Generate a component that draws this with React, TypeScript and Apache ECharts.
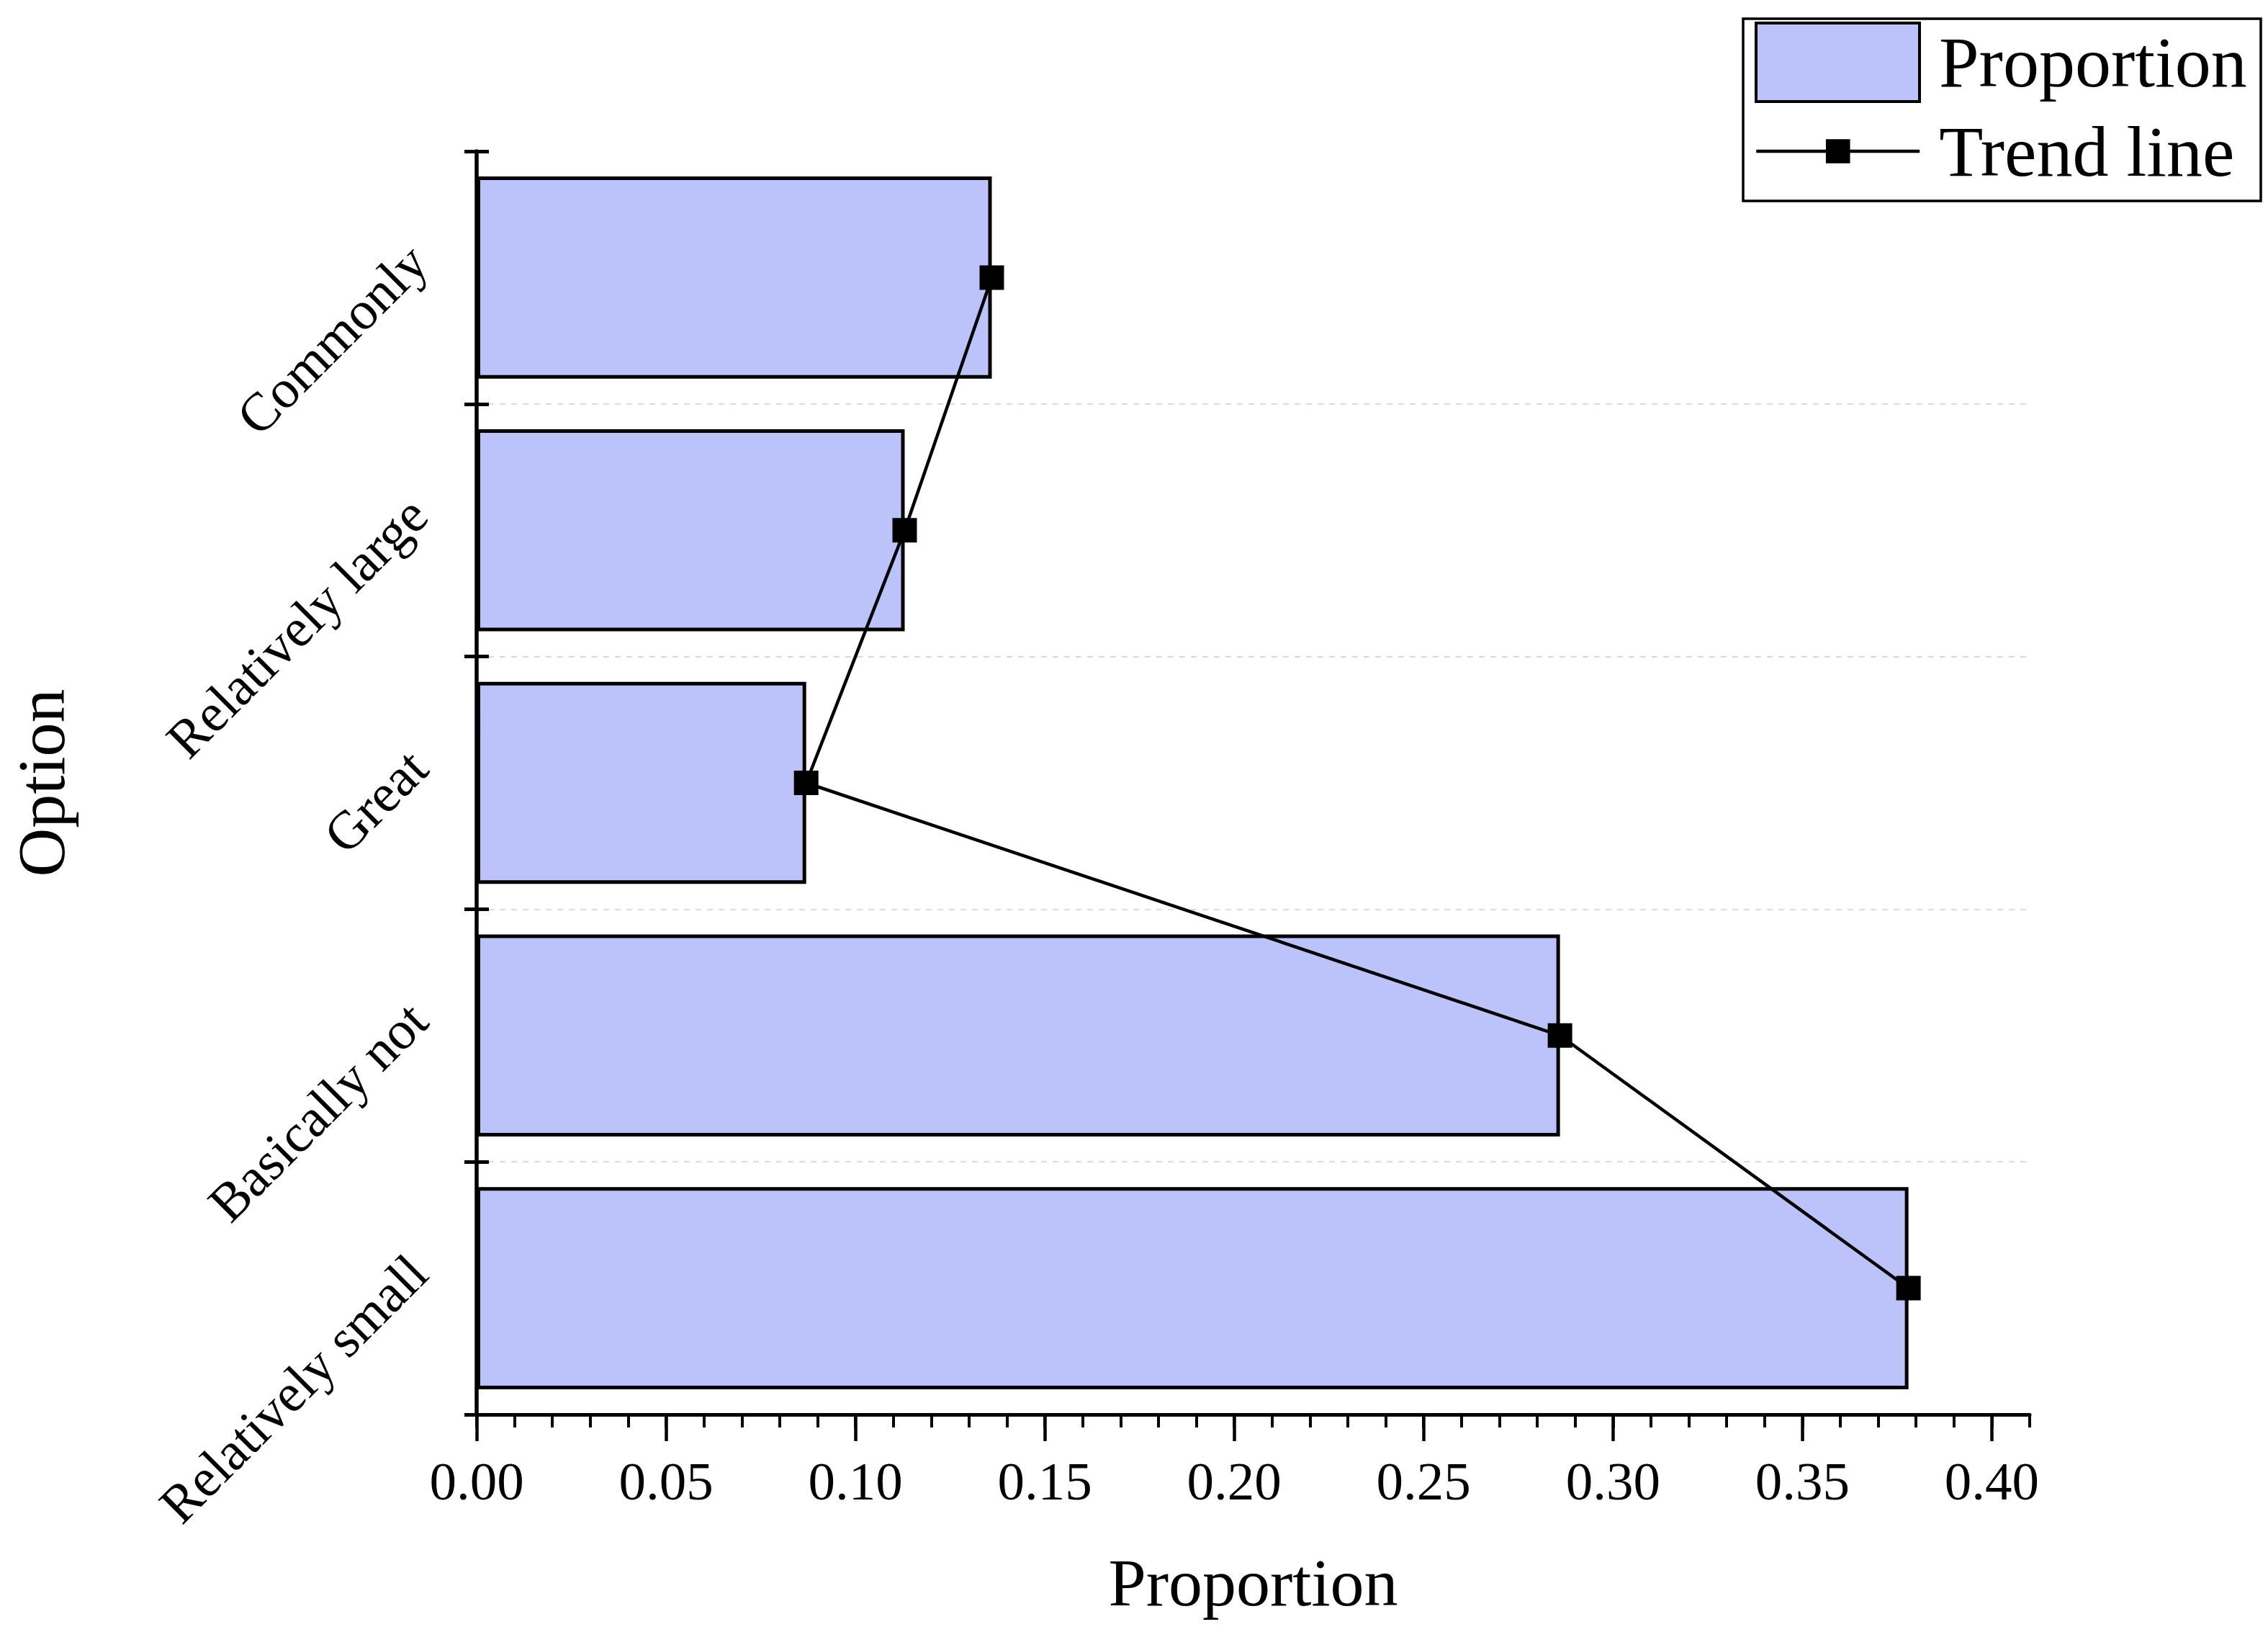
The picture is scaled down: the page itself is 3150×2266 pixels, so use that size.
import React, { useEffect, useRef } from 'react';
import * as echarts from 'echarts';

const categories = ['Relatively small', 'Basically not', 'Great', 'Relatively large', 'Commonly'];
const proportion = [0.378, 0.286, 0.087, 0.113, 0.136];
const trend = [0.378, 0.286, 0.087, 0.113, 0.136];
const xMajorTicks = [0, 0.05, 0.1, 0.15, 0.2, 0.25, 0.3, 0.35, 0.4];
const bandBoundaries = [1, 2, 3, 4];

const FONT = '"Liberation Serif", "Times New Roman", serif';

export default function App() {
  const ref = useRef<HTMLDivElement>(null);
  useEffect(() => {
    document.body.style.margin = '0';
    const chart = echarts.init(ref.current!, null, { renderer: 'svg' });
    const option: any = {
      animation: false,
      backgroundColor: '#ffffff',
      textStyle: { fontFamily: FONT, color: '#000' },
      grid: { left: 662, right: 331, top: 210, bottom: 302, containLabel: false, outerBoundsMode: 'none' },
      legend: [
        {
          data: [{ name: 'Proportion', icon: 'rect' }],
          left: 2437, top: 30, padding: 0,
          itemWidth: 227, itemHeight: 109,
          itemStyle: { borderWidth: 4, borderColor: '#000' },
          textStyle: { fontFamily: FONT, fontSize: 100, color: '#000', padding: [0, 0, 0, 22] },
        },
        {
          data: ['Trend line'],
          left: 2437, top: 160, padding: 0,
          itemWidth: 227, itemHeight: 42,
          lineStyle: { width: 4.5 },
          textStyle: { fontFamily: FONT, fontSize: 100, color: '#000', padding: [0, 0, 0, 22] },
        },
      ],
      graphic: [
        {
          type: 'rect',
          shape: { x: 2421, y: 26, width: 719, height: 253 },
          style: { fill: 'none', stroke: '#000', lineWidth: 3.5 },
          z: 10,
        },
      ],
      xAxis: [
        {
          type: 'value', position: 'bottom', min: 0, max: 0.41, interval: 0.01,
          name: 'Proportion', nameLocation: 'middle', nameGap: 186,
          nameTextStyle: { fontFamily: FONT, fontSize: 94, color: '#000' },
          axisLine: { show: true, lineStyle: { color: '#000', width: 5 } },
          axisTick: { show: true, inside: false, length: 18, lineStyle: { color: '#000', width: 4 } },
          axisLabel: {
            customValues: xMajorTicks,
            formatter: (v: number) => (Math.round(v * 100) % 5 === 0 ? v.toFixed(2) : ''),
            fontFamily: FONT, fontSize: 75, color: '#000', margin: 55,
          },
          splitLine: { show: false },
        },
        {
          type: 'value', position: 'bottom', min: 0, max: 0.41,
          axisLine: { show: false },
          axisTick: { show: true, inside: false, length: 37, customValues: xMajorTicks, lineStyle: { color: '#000', width: 4.5 } },
          axisLabel: { show: false },
          splitLine: { show: false },
        },
      ],
      yAxis: [
        {
          type: 'category', position: 'left', data: categories,
          name: 'Option', nameLocation: 'middle', nameGap: 558, nameRotate: 90,
          nameTextStyle: { fontFamily: FONT, fontSize: 94, lineHeight: 94, color: '#000' },
          axisLine: { show: true, lineStyle: { color: '#000', width: 5.5 } },
          axisTick: { show: true, inside: false, length: 17, lineStyle: { color: '#000', width: 5 } },
          axisLabel: {
            interval: 0, rotate: 45, fontFamily: FONT, fontSize: 75, lineHeight: 75, color: '#000',
            margin: 48, verticalAlign: 'bottom', padding: [0, 0, 10, 0],
          },
          splitLine: { show: false },
        },
        {
          type: 'category', position: 'left', data: categories,
          axisLine: { show: false },
          axisTick: { show: true, inside: true, length: 17, lineStyle: { color: '#000', width: 5 } },
          axisLabel: { show: false },
          splitLine: { show: false },
        },
        {
          type: 'value', position: 'left', min: 0, max: 5,
          axisLine: { show: false },
          axisTick: { show: false, customValues: bandBoundaries },
          axisLabel: { show: false },
          splitLine: { show: true, lineStyle: { color: '#cfcfcf', width: 1.5, type: [8, 8] } },
        },
      ],
      series: [
        {
          name: 'Proportion', type: 'bar', xAxisIndex: 0, yAxisIndex: 0,
          data: proportion, barWidth: '80%',
          itemStyle: { color: '#BBC3FA', borderColor: '#000', borderWidth: 5 },
          z: 2,
        },
        {
          name: 'Trend line', type: 'line', xAxisIndex: 0, yAxisIndex: 0,
          data: categories.map((c, i) => [trend[i], c]),
          symbol: 'rect', symbolSize: 34,
          lineStyle: { color: '#000', width: 4.5 },
          itemStyle: { color: '#000' },
          z: 5,
        },
      ],
    };
    chart.setOption(option);
    return () => chart.dispose();
  }, []);
  return <div ref={ref} style={{ width: 3150, height: 2266 }} />;
}
